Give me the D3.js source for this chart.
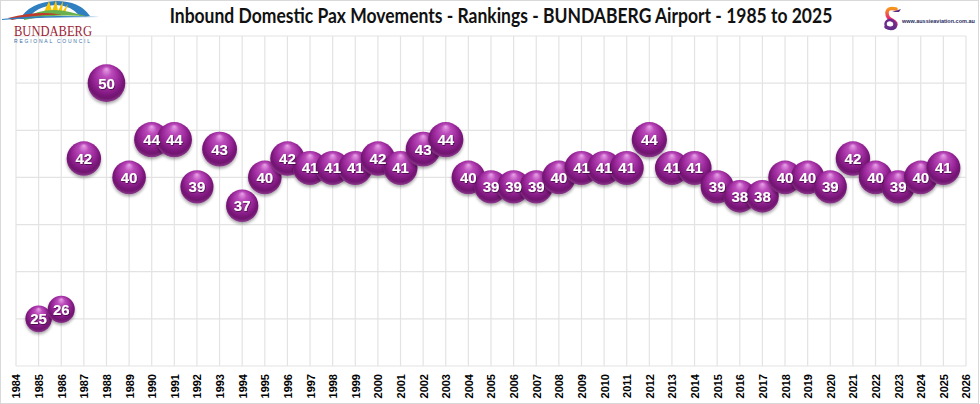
<!DOCTYPE html>
<html>
<head>
<meta charset="utf-8">
<script src="https://cdn.jsdelivr.net/npm/d3@7"></script>
<style>
  body { margin: 0; background: #ffffff; }
  svg { display: block; }
</style>
</head>
<body>
<svg width="980" height="404"></svg>
<script>
// Données
let annees = [1985, 1986, 1987, 1988, 1989, 1990, 1991, 1992, 1993, 1994,
    1995, 1996, 1997, 1998, 1999, 2000, 2001, 2002, 2003, 2004,
    2005, 2006, 2007, 2008, 2009, 2010, 2011, 2012, 2013, 2014,
    2015, 2016, 2017, 2018, 2019, 2020, 2021, 2022, 2023, 2024, 2025];

let rangs = [25, 26, 42, 50, 40, 44, 44, 39, 43, 37,
    40, 42, 41, 41, 41, 42, 41, 43, 44, 40,
    39, 39, 39, 40, 41, 41, 41, 44, 41, 41,
    39, 38, 38, 40, 40, 39, 42, 40, 39, 40, 41];

let graduationsX = d3.range(1984, 2027);
let graduationsY = [20, 25, 30, 35, 40, 45, 50, 55];

let titre = "Inbound Domestic Pax Movements - Rankings - BUNDABERG Airport - 1985 to 2025";

let points = annees.map((a, i) => ({ annee: a, rang: rangs[i] }));

let svg = d3.select("svg");

// Echelles
let x = d3.scaleLinear().domain([1984, 2026]).range([16, 966]);
let y = d3.scaleLinear().domain([20, 55]).range([366, 36]);
let taille = d3.scaleSqrt().domain([0, 50]).range([0, 18.8]);

// Définitions (dégradé des bulles + ombre)
let defs = svg.append("defs");

let grad = defs.append("radialGradient")
    .attr("id", "bulle")
    .attr("cx", "50%").attr("cy", "45%").attr("r", "55%")
    .attr("fx", "50%").attr("fy", "12%");
grad.append("stop").attr("offset", "0%").attr("stop-color", "#e9a3e9");
grad.append("stop").attr("offset", "25%").attr("stop-color", "#bb4bbb");
grad.append("stop").attr("offset", "60%").attr("stop-color", "#9a279a");
grad.append("stop").attr("offset", "88%").attr("stop-color", "#701270");
grad.append("stop").attr("offset", "100%").attr("stop-color", "#8a3a8a");

let ombre = defs.append("filter").attr("id", "ombre")
    .attr("x", "-30%").attr("y", "-30%").attr("width", "160%").attr("height", "170%");
ombre.append("feDropShadow")
    .attr("dx", 0).attr("dy", 2).attr("stdDeviation", 1.6)
    .attr("flood-color", "#000").attr("flood-opacity", 0.35);

let texteOmbre = defs.append("filter").attr("id", "texteOmbre");
texteOmbre.append("feDropShadow")
    .attr("dx", 0.6).attr("dy", 0.8).attr("stdDeviation", 0.5)
    .attr("flood-color", "#2a002a").attr("flood-opacity", 0.8);

// Cadre
svg.append("rect")
    .attr("x", 0.5).attr("y", 0.5)
    .attr("width", 978).attr("height", 403)
    .attr("fill", "none")
    .attr("stroke", "#d9d9d9");

// Grille
let grille = svg.append("g");
grille.selectAll("line.v").data(graduationsX).enter()
    .append("line")
    .attr("class", "v")
    .attr("x1", d => x(d)).attr("x2", d => x(d))
    .attr("y1", y(55)).attr("y2", y(20))
    .attr("stroke", "#e3e3e3").attr("stroke-width", 1.2);
grille.selectAll("line.h").data(graduationsY).enter()
    .append("line")
    .attr("class", "h")
    .attr("x1", x(1984)).attr("x2", x(2026))
    .attr("y1", d => y(d)).attr("y2", d => y(d))
    .attr("stroke", "#e3e3e3").attr("stroke-width", 1.2);

// Axe des années
let axeX = d3.axisBottom(x).tickValues(graduationsX).tickFormat(d3.format("d")).tickSize(0);
svg.append("g")
    .attr("transform", "translate(0,374)")
    .call(axeX)
    .call(g => g.select(".domain").remove())
    .selectAll("text")
    .attr("transform", "rotate(-90)")
    .attr("text-anchor", "end")
    .attr("x", -0).attr("y", 0).attr("dy", "0.36em")
    .style("font-family", "Liberation Sans, Arial, sans-serif")
    .style("font-size", "11px")
    .style("font-weight", "bold")
    .style("fill", "#000");

// Titre (resserré horizontalement pour tenir dans 663 px)
let titreG = svg.append("g").attr("transform", "translate(501,23)");
let titreT = titreG.append("text")
    .attr("text-anchor", "middle")
    .style("font-family", "Lato, sans-serif")
    .style("font-size", "20px")
    .style("font-weight", "bold")
    .style("fill", "#111")
    .text(titre);
let largeur = titreT.node().getComputedTextLength();
if (largeur > 663) {
    titreT.attr("transform", `scale(${663 / largeur},1)`);
}

// Bulles (d'abord les cercles, ensuite les étiquettes par-dessus)
svg.append("g").selectAll("circle").data(points).enter()
    .append("circle")
    .attr("cx", d => x(d.annee))
    .attr("cy", d => y(d.rang))
    .attr("r", d => taille(d.rang))
    .attr("fill", "url(#bulle)")
    .attr("filter", "url(#ombre)");

svg.append("g").selectAll("text").data(points).enter()
    .append("text")
    .attr("x", d => x(d.annee))
    .attr("y", d => y(d.rang))
    .attr("text-anchor", "middle")
    .attr("dy", "0.36em")
    .attr("filter", "url(#texteOmbre)")
    .style("font-family", "Liberation Sans, Arial, sans-serif")
    .style("font-size", "15px")
    .style("font-weight", "bold")
    .style("fill", "#fff")
    .text(d => d.rang);

// Logo Bundaberg (approximation)
let logo = svg.append("g");
logo.append("path")
    .attr("d", "M20,19 Q30,2 56,1 Q80,1 90,16 L80,16 Q70,5 56,5 Q36,6 28,19 Z")
    .attr("fill", "#2f7fc1");
logo.append("path")
    .attr("d", "M44,12 L49,1 L52,11 L56,0 L58,11 L63,1 L62,12 L68,4 L65,13 Z")
    .attr("fill", "#f5c400");
logo.append("path")
    .attr("d", "M24,18 Q45,6 70,12 Q82,15 90,17 Q60,13 24,20 Z")
    .attr("fill", "#6ab04c");
logo.append("path")
    .attr("d", "M8,18 Q40,10 62,15 Q40,14 12,20 Z")
    .attr("fill", "#c0392b");
logo.append("path")
    .attr("d", "M2,19 Q40,14 100,17 Q40,17 2,20 Z")
    .attr("fill", "#2f7fc1");
logo.append("text")
    .attr("x", 53).attr("y", 36)
    .attr("text-anchor", "middle")
    .attr("textLength", 78)
    .attr("lengthAdjust", "spacingAndGlyphs")
    .style("font-family", "Liberation Serif, serif")
    .style("font-size", "14px")
    .style("fill", "#9b2335")
    .text("BUNDABERG");
logo.append("text")
    .attr("x", 52).attr("y", 43)
    .attr("text-anchor", "middle")
    .attr("textLength", 76)
    .attr("lengthAdjust", "spacing")
    .style("font-family", "Liberation Sans, sans-serif")
    .style("font-size", "5px")
    .style("fill", "#3a6ea5")
    .text("REGIONAL COUNCIL");

// Logo aussieaviation (approximation)
let logo2 = svg.append("g");
let gradS = defs.append("linearGradient").attr("id", "swirl")
    .attr("x1", "0").attr("y1", "0").attr("x2", "0").attr("y2", "1");
gradS.append("stop").attr("offset", "0%").attr("stop-color", "#f7941d");
gradS.append("stop").attr("offset", "50%").attr("stop-color", "#e6266f");
gradS.append("stop").attr("offset", "100%").attr("stop-color", "#5b2a86");
logo2.append("path")
    .attr("d", "M896,9 Q887,7 887,13 Q887,18 892,20 Q898,23 895,27 Q891,30 886,27")
    .attr("fill", "none")
    .attr("stroke", "url(#swirl)")
    .attr("stroke-width", 3.5)
    .attr("stroke-linecap", "round");
logo2.append("ellipse")
    .attr("cx", 890).attr("cy", 24)
    .attr("rx", 4.5).attr("ry", 4)
    .attr("fill", "none")
    .attr("stroke", "#6a2c8c")
    .attr("stroke-width", 2.5);
logo2.append("path")
    .attr("d", "M892,12 L901,9 L899,12 Z")
    .attr("fill", "#5b2a86");
logo2.append("text")
    .attr("x", 902).attr("y", 23)
    .style("font-family", "Liberation Sans Narrow, Liberation Sans, sans-serif")
    .style("font-size", "5.5px")
    .style("font-weight", "bold")
    .style("fill", "#1f2a60")
    .text("www.aussieaviation.com.au");
</script>
</body>
</html>
